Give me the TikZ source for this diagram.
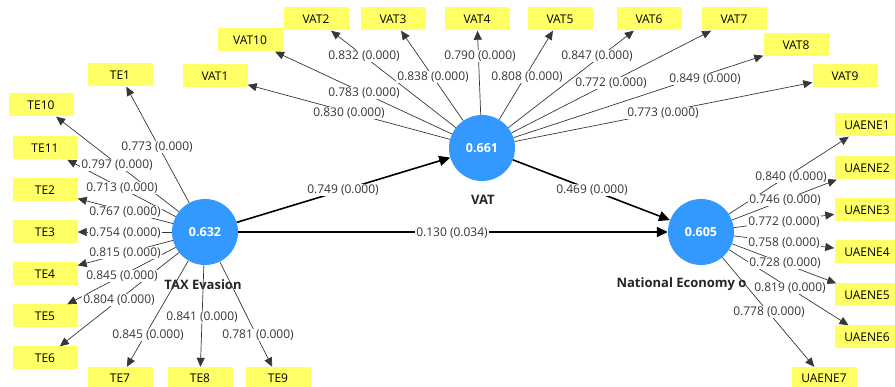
\documentclass[tikz,border=0pt]{standalone}
\usepackage{fontspec}
\setmainfont{Open Sans}
\usetikzlibrary{arrows.meta}
\definecolor{lvblue}{RGB}{51,153,255}
\definecolor{indyel}{RGB}{255,255,102}
\definecolor{lngray}{RGB}{55,55,55}
\tikzset{
  ind/.style={fill=indyel, minimum width=65pt, minimum height=23pt, inner sep=0pt, font=\fontsize{12}{14}\selectfont},
  lv/.style={circle, fill=lvblue, minimum size=66pt, inner sep=0pt, text=white, font=\fontsize{12.5}{14}\selectfont\bfseries},
  lab/.style={fill=white, inner sep=1pt, text=lngray, font=\fontsize{12}{14}\selectfont},
  lvname/.style={font=\fontsize{13}{15}\selectfont\bfseries, text=black!85},
  ld/.style={draw=lngray, line width=0.7pt, -{Triangle[length=9pt,width=8pt]}},
  pth/.style={draw=black, line width=1.6pt, -{Triangle[length=11pt,width=10pt]}}
}
\begin{document}
\begin{tikzpicture}[x=1pt,y=-1pt]
\useasboundingbox (0,0) rectangle (895,387);
% latent variables
\node[lv] (te) at (205,232) {0.632};
\node[lv] (vat) at (482,148) {0.661};
\node[lv] (ne) at (701,232) {0.605};
\node[lvname] (ten) at (203,285) {TAX Evasion};
\node[lvname] (vatn) at (483,200) {VAT};
\node[lvname, anchor=west] (nen) at (613,284) {National Economy o};
% TE indicators
\node[ind] (te1) at (120,75) {TE1};
\node[ind] (te10) at (41,105) {TE10};
\node[ind] (te11) at (45,148) {TE11};
\node[ind] (te2) at (45,190) {TE2};
\node[ind] (te3) at (45,232) {TE3};
\node[ind] (te4) at (45,274) {TE4};
\node[ind] (te5) at (45,316) {TE5};
\node[ind] (te6) at (45,358) {TE6};
\node[ind] (te7) at (120,378.5) {TE7};
\node[ind] (te8) at (200,378.5) {TE8};
\node[ind] (te9) at (278,378.5) {TE9};
% VAT indicators
\node[ind] (vat1) at (215,76) {VAT1};
\node[ind] (vat10) at (250,40) {VAT10};
\node[ind] (vat2) at (316,19) {VAT2};
\node[ind] (vat3) at (393,19) {VAT3};
\node[ind] (vat4) at (477,19) {VAT4};
\node[ind] (vat5) at (560,19) {VAT5};
\node[ind] (vat6) at (649,19) {VAT6};
\node[ind] (vat7) at (734,19) {VAT7};
\node[ind] (vat8) at (796,45) {VAT8};
\node[ind] (vat9) at (845,76) {VAT9};
% UAENE indicators
\node[ind] (u1) at (867,125) {UAENE1};
\node[ind] (u2) at (867,168) {UAENE2};
\node[ind] (u3) at (867,210) {UAENE3};
\node[ind] (u4) at (867,252) {UAENE4};
\node[ind] (u5) at (867,295) {UAENE5};
\node[ind] (u6) at (867,337) {UAENE6};
\node[ind] (u7) at (824,378.5) {UAENE7};
% loading lines
\foreach \t in {te1,te10,te11,te2,te3,te4,te5,te6,te7,te8,te9}{\draw[ld] (te) -- (\t);}
\foreach \t in {vat1,vat10,vat2,vat3,vat4,vat5,vat6,vat7,vat8,vat9}{\draw[ld] (vat) -- (\t);}
\foreach \t in {u1,u2,u3,u4,u5,u6,u7}{\draw[ld] (ne) -- (\t);}
% structural paths
\draw[pth] (te) -- (vat);
\draw[pth] (vat) -- (ne);
\draw[pth] (te) -- (ne);
% labels
\node[lab] (s1) at (343,190) {0.749 (0.000)};
\node[lab] (s2) at (592,190) {0.469 (0.000)};
\node[lab] (s3) at (452,233) {0.130 (0.034)};
\node[lab] (v1) at (349,113) {0.830 (0.000)};
\node[lab] (v10) at (364,93) {0.783 (0.000)};
\node[lab] (v2) at (364,56) {0.832 (0.000)};
\node[lab] (v3) at (433,77) {0.838 (0.000)};
\node[lab] (v4) at (480,56) {0.790 (0.000)};
\node[lab] (v5) at (527,77) {0.808 (0.000)};
\node[lab] (v6) at (597,56) {0.847 (0.000)};
\node[lab] (v7) at (611,83) {0.772 (0.000)};
\node[lab] (v8) at (705,79) {0.849 (0.000)};
\node[lab] (v9) at (663,113) {0.773 (0.000)};
\node[lab] (t1) at (157,147) {0.773 (0.000)};
\node[lab] (t10) at (117,165) {0.797 (0.000)};
\node[lab] (t11) at (122,188) {0.713 (0.000)};
\node[lab] (t2) at (125,212) {0.767 (0.000)};
\node[lab] (t3) at (125,233) {0.754 (0.000)};
\node[lab] (t4) at (125,253) {0.815 (0.000)};
\node[lab] (t5) at (122,276) {0.845 (0.000)};
\node[lab] (t6) at (119,300) {0.804 (0.000)};
\node[lab] (t7) at (148,335) {0.845 (0.000)};
\node[lab] (t8) at (202,317) {0.841 (0.000)};
\node[lab] (t9) at (258,335) {0.781 (0.000)};
\node[lab] (e1) at (791,177) {0.840 (0.000)};
\node[lab] (e2) at (785,200) {0.746 (0.000)};
\node[lab] (e3) at (784,222) {0.772 (0.000)};
\node[lab] (e4) at (784,243) {0.758 (0.000)};
\node[lab] (e5) at (785,263) {0.728 (0.000)};
\node[lab] (e6) at (790,288) {0.819 (0.000)};
\node[lab] (e7) at (769,312) {0.778 (0.000)};
\end{tikzpicture}
\end{document}
